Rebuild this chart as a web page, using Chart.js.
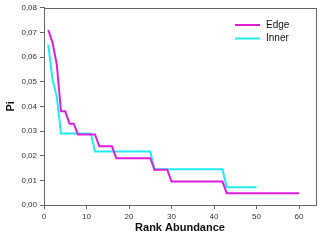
<!DOCTYPE html>
<html>
<head>
<meta charset="utf-8">
<script src="https://cdn.jsdelivr.net/npm/chart.js@4"></script>
<style>
  html, body { margin: 0; padding: 0; background: #fff; }
  #wrap { width: 324px; height: 245px; position: relative; }
</style>
</head>
<body>
<div id="wrap"><canvas id="c"></canvas></div>
<script>
const seriesNames = ['Edge', 'Inner'];
const edgeValues = [0.071, 0.066, 0.057, 0.038, 0.038, 0.033, 0.033,
  0.0286, 0.0286, 0.0286, 0.0286, 0.0286,
  0.0238, 0.0238, 0.0238, 0.0238,
  0.019, 0.019, 0.019, 0.019, 0.019, 0.019, 0.019, 0.019, 0.019,
  0.0143, 0.0143, 0.0143, 0.0143,
  0.0095, 0.0095, 0.0095, 0.0095, 0.0095, 0.0095, 0.0095, 0.0095, 0.0095, 0.0095, 0.0095, 0.0095, 0.0095,
  0.0048, 0.0048, 0.0048, 0.0048, 0.0048, 0.0048, 0.0048, 0.0048, 0.0048,
  0.0048, 0.0048, 0.0048, 0.0048, 0.0048, 0.0048, 0.0048, 0.0048, 0.0048];
const innerValues = [0.065, 0.051, 0.044,
  0.029, 0.029, 0.029, 0.029, 0.029, 0.029, 0.029, 0.029,
  0.0217, 0.0217, 0.0217, 0.0217, 0.0217, 0.0217, 0.0217, 0.0217, 0.0217, 0.0217, 0.0217, 0.0217, 0.0217, 0.0217,
  0.0145, 0.0145, 0.0145, 0.0145, 0.0145, 0.0145, 0.0145, 0.0145, 0.0145, 0.0145, 0.0145, 0.0145, 0.0145, 0.0145, 0.0145, 0.0145, 0.0145,
  0.0072, 0.0072, 0.0072, 0.0072, 0.0072, 0.0072, 0.0072, 0.0072];
const yTickLabels = ['0,00', '0,01', '0,02', '0,03', '0,04', '0,05', '0,06', '0,07', '0,08'];
const xTickLabels = ['0', '10', '20', '30', '40', '50', '60'];
const xTitle = 'Rank Abundance';
const yTitle = 'Pi';
const colors = ['#e01ee0', '#22ecf2'];

const toPoints = arr => arr.map((v, i) => ({ x: i + 1, y: v }));

const frame = {
  id: 'frame',
  afterDraw(chart) {
    const { ctx, chartArea: a } = chart;
    ctx.save();
    ctx.strokeStyle = '#666';
    ctx.lineWidth = 1;
    ctx.strokeRect(Math.round(a.left) + 0.5, Math.round(a.top) + 0.5,
      Math.round(a.right - a.left), Math.round(a.bottom - a.top));
    // legend
    ctx.font = '10px "Liberation Sans", Arial, sans-serif';
    ctx.textBaseline = 'middle';
    chart.data.datasets.forEach((ds, i) => {
      const y = 25 + i * 13.5;
      ctx.strokeStyle = ds.borderColor;
      ctx.lineWidth = 2;
      ctx.beginPath();
      ctx.moveTo(235, y);
      ctx.lineTo(260, y);
      ctx.stroke();
      ctx.fillStyle = '#111';
      ctx.fillText(ds.label, 266, y);
    });
    ctx.restore();
  }
};

new Chart(document.getElementById('c'), {
  type: 'line',
  data: {
    datasets: [
      { label: seriesNames[0], data: toPoints(edgeValues), borderColor: colors[0], borderWidth: 2, pointRadius: 0, tension: 0, fill: false },
      { label: seriesNames[1], data: toPoints(innerValues), borderColor: colors[1], borderWidth: 2, pointRadius: 0, tension: 0, fill: false }
    ]
  },
  options: {
    responsive: true,
    maintainAspectRatio: false,
    animation: false,
    layout: { padding: { top: 7, right: 8, left: 0, bottom: 0 } },
    plugins: { legend: { display: false }, tooltip: { enabled: false } },
    scales: {
      x: {
        type: 'linear',
        min: 0, max: 64,
        afterFit(s) { s.height = 40; },
        ticks: {
          stepSize: 10, includeBounds: false, padding: 3,
          color: '#333', font: { size: 8, family: '"Liberation Sans", Arial, sans-serif' },
          maxRotation: 0,
          callback: (v) => xTickLabels[Math.round(v / 10)] ?? ''
        },
        grid: { drawOnChartArea: false, drawTicks: true, tickLength: 4, color: '#666' },
        border: { color: '#666' },
        title: { display: true, text: xTitle, color: '#111', padding: { top: 0, bottom: 10 },
          font: { size: 11, weight: 'bold', family: '"Liberation Sans", Arial, sans-serif' } }
      },
      y: {
        min: 0, max: 0.08,
        afterFit(s) { s.width = 44; },
        ticks: {
          stepSize: 0.01, padding: 3,
          color: '#333', font: { size: 8, family: '"Liberation Sans", Arial, sans-serif' },
          callback: (v) => yTickLabels[Math.round(v * 100)] ?? ''
        },
        grid: { drawOnChartArea: false, drawTicks: true, tickLength: 4, color: '#666' },
        border: { color: '#666' },
        title: { display: true, text: yTitle, color: '#111', padding: { top: 4, bottom: 0 },
          font: { size: 11, weight: 'bold', family: '"Liberation Sans", Arial, sans-serif' } }
      }
    }
  },
  plugins: [frame]
});
</script>
</body>
</html>
